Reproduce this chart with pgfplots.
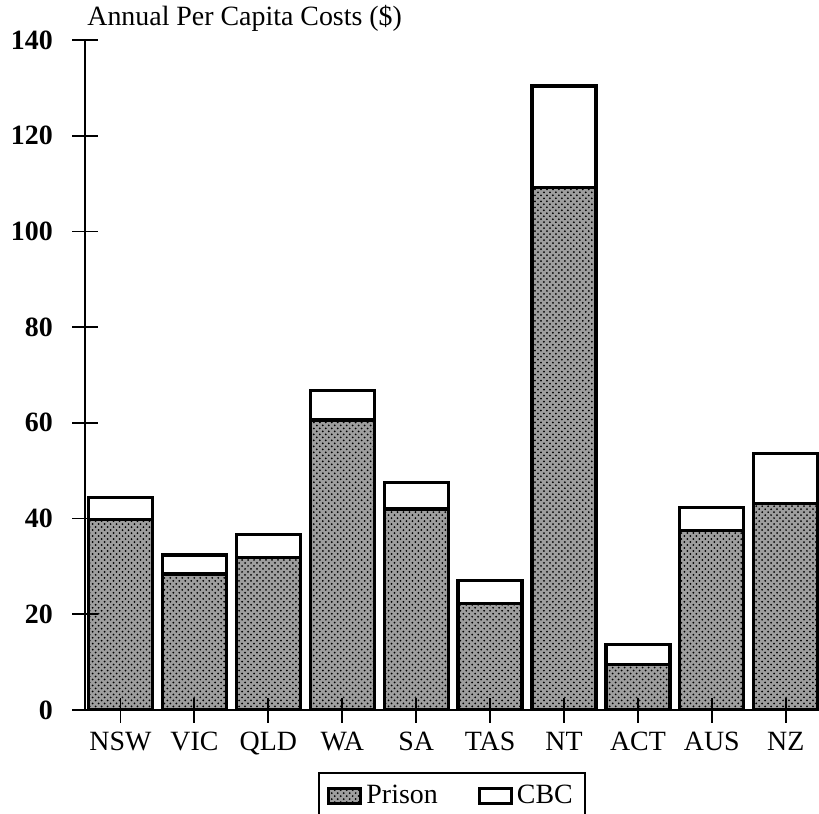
\documentclass[border=0pt]{standalone}
\usepackage{fontspec}
\setmainfont{Liberation Serif}
\usepackage{pgfplots}
\pgfplotsset{compat=1.18}
\usetikzlibrary{patterns}
\begin{document}
\fontsize{14}{16}\selectfont
\begin{tikzpicture}
\begin{axis}[
  scale only axis,
  width=367bp, height=335bp,
  xmin=-0.48, xmax=9.45,
  ymin=0, ymax=140,
  ytick={0,20,...,140},
  xtick={0,...,9},
  xticklabels={NSW,VIC,QLD,WA,SA,TAS,NT,ACT,AUS,NZ},
  axis x line=bottom, axis y line=left,
  axis line style={-, line width=1.4bp},
  axis on top,
  tick align=center,
  major tick length=12.5bp,
  tick style={line width=0.9bp, black},
  ybar stacked,
  bar width=0.866,
  /pgf/number format/assume math mode=true,
  xticklabel style={font=\fontsize{14}{16}\selectfont},
  yticklabel style={font=\fontsize{14}{16}\selectfont\bfseries, xshift=-5bp},
  legend style={at={(0.5,-0.0925)}, anchor=north, legend columns=2,
    draw=black, line width=1bp, font=\fontsize{14}{16}\selectfont,
    inner xsep=4bp, inner ysep=4bp,
    /tikz/every even column/.append style={column sep=18bp}},
  legend image code/.code={\draw[#1] (0bp,-3.75bp) rectangle (16bp,3.75bp);},
]
\addplot+[draw=black, line width=1.6bp, fill=black!38, postaction={pattern=crosshatch dots, pattern color=black}]
  coordinates {(0,39.8) (1,28.4) (2,31.8) (3,60.6) (4,42.0) (5,22.3) (6,109.1) (7,9.5) (8,37.5) (9,43.2)};
\addlegendentry{Prison}
\addplot+[draw=black, line width=1.6bp, fill=white]
  coordinates {(0,4.6) (1,4.0) (2,4.9) (3,6.1) (4,5.6) (5,4.8) (6,21.3) (7,4.2) (8,4.8) (9,10.4)};
\addlegendentry{CBC}
\coordinate (SW) at (rel axis cs:0,0);
\coordinate (NE) at (rel axis cs:1,1);
\coordinate (NW) at (rel axis cs:0,1);
\end{axis}
\node[anchor=base west, inner sep=0pt] at ([xshift=1bp,yshift=7bp]NW) {Annual Per Capita Costs (\$)};
\pgfresetboundingbox
\path[use as bounding box] ([xshift=-42.5bp,yshift=-52bp]SW) rectangle ([yshift=20bp]NE);
\end{tikzpicture}
\end{document}
